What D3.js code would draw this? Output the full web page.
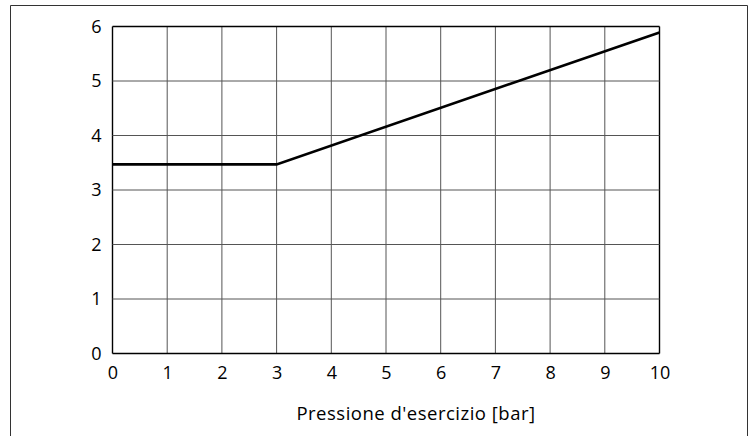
<!DOCTYPE html>
<html>
<head>
<meta charset="utf-8">
<script src="https://cdn.jsdelivr.net/npm/d3@7"></script>
<style>
  html, body { margin: 0; padding: 0; background: #fff; }
  svg { display: block; }
</style>
</head>
<body>
<svg id="chart" width="754" height="436"></svg>
<script>
// Pressure characteristic
const xTicks = [0, 1, 2, 3, 4, 5, 6, 7, 8, 9, 10];
const yTicks = [0, 1, 2, 3, 4, 5, 6];
const pressure = [0, 3, 10];
const value = [3.47, 3.47, 5.89];
const xTitle = "Pressione d'esercizio [bar]";

const svg = d3.select("#chart");
const font = "'Open Sans', 'Noto Sans', sans-serif";

// outer frame (open at the bottom edge)
svg.append("path")
  .attr("d", "M10.5,436 V5.5 H747.5 V436")
  .attr("fill", "none").attr("stroke", "#333").attr("stroke-width", 1);

const x = d3.scaleLinear().domain([0, 10]).range([112.5, 659.5]);
const y = d3.scaleLinear().domain([0, 6]).range([353.5, 26.5]);

// grid
const grid = svg.append("g");
grid.selectAll("line.v").data(xTicks).join("line")
  .attr("x1", d => x(d)).attr("x2", d => x(d))
  .attr("y1", y(0)).attr("y2", y(6))
  .attr("stroke", d => (d === 0 || d === 10) ? "#000" : "#555")
  .attr("stroke-width", d => (d === 0 || d === 10) ? 1.4 : 1);
grid.selectAll("line.h").data(yTicks).join("line")
  .attr("y1", d => y(d)).attr("y2", d => y(d))
  .attr("x1", x(0)).attr("x2", x(10))
  .attr("stroke", d => (d === 0 || d === 6) ? "#000" : "#555")
  .attr("stroke-width", d => (d === 0 || d === 6) ? 1.4 : 1);

// axis labels
const xAxis = d3.axisBottom(x).tickValues(xTicks).tickFormat(d3.format("d")).tickSize(0).tickPadding(13);
const gx = svg.append("g").attr("transform", `translate(0,${y(0)})`).call(xAxis);
gx.select(".domain").remove();
gx.selectAll("text").attr("font-family", font).attr("font-size", 18).attr("fill", "#000");

const yAxis = d3.axisLeft(y).tickValues(yTicks).tickFormat(d3.format("d")).tickSize(0).tickPadding(11);
const gy = svg.append("g").attr("transform", `translate(${x(0)},0)`).call(yAxis);
gy.select(".domain").remove();
gy.selectAll("text").attr("font-family", font).attr("font-size", 18).attr("fill", "#000");

svg.append("text")
  .attr("x", 416).attr("y", 420)
  .attr("text-anchor", "middle")
  .attr("font-family", font).attr("font-size", 18.5).attr("letter-spacing", 0.5)
  .attr("fill", "#000")
  .text(xTitle);

// characteristic curve
const line = d3.line().x((d, i) => x(pressure[i])).y(d => y(d));
svg.append("path")
  .attr("d", line(value))
  .attr("fill", "none").attr("stroke", "#000").attr("stroke-width", 2.6)
  .attr("stroke-linejoin", "miter");
</script>
</body>
</html>
